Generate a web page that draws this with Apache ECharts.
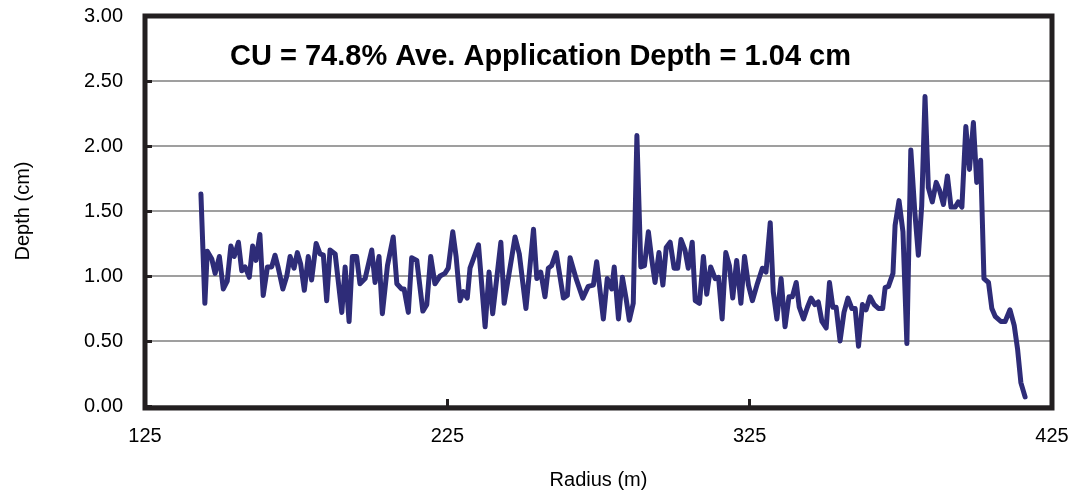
<!DOCTYPE html>
<html>
<head>
<meta charset="utf-8">
<script src="https://cdn.jsdelivr.net/npm/echarts@6/dist/echarts.min.js"></script>
<style>
    html, body { margin: 0; padding: 0; background: #fff; }
    #chart { width: 1073px; height: 495px; }
</style>
</head>
<body>
<div id="chart"></div>
<script>
// 半径 (m)
var radius = [
    143.5, 144.8, 145.6, 147.1, 148.2, 149.6, 150.9, 152.2, 153.4, 154.5, 155.9, 157.0, 158.1, 159.5, 160.6, 161.7,
    163.0, 164.1, 165.5, 166.9, 168.0, 169.1, 170.6, 171.9, 173.0, 174.3, 175.4, 176.5, 177.7, 179.0, 180.1, 181.6,
    182.9, 184.0, 185.1, 186.2, 187.9,
    190.1, 191.2, 192.5, 193.6, 195.0, 196.1, 197.8, 200.0, 201.1, 202.4, 203.5, 205.2, 207.1, 208.3, 209.9, 210.7,
    212.1, 213.2, 214.9, 216.9, 218.2, 219.5, 220.9, 222.6, 224.2, 225.3, 226.8, 227.9, 229.2, 230.3, 231.6, 232.5,
    235.3, 237.5, 238.8, 240.0, 242.7, 243.8, 247.4, 248.8, 251.0, 253.5, 254.6, 255.9, 257.3, 258.4, 259.5, 261.0,
    263.4, 264.7, 265.6, 267.6, 269.8, 271.6, 273.3, 274.4, 276.6, 277.9, 279.4, 280.2, 281.6,
    282.9, 284.1, 285.2, 286.5, 287.7, 289.0, 290.2, 291.5, 292.6, 293.7, 295.0, 296.3, 297.4, 298.7, 300.0, 301.2,
    302.3, 303.6, 304.7, 306.0, 307.0, 308.4, 309.7, 310.8, 312.1, 313.6, 314.7, 315.9, 317.1, 318.3, 319.4, 320.7,
    322.1, 323.3, 324.6, 325.9,
    327.4, 329.2, 330.4, 331.8, 332.8, 334.0, 335.4, 336.7, 338.0, 339.1, 340.4, 341.4, 342.8, 344.1, 345.3, 346.6,
    347.7, 348.9, 350.3, 351.4, 352.5, 353.6, 354.9, 356.2, 357.5, 358.8, 359.9, 361.0, 362.3, 363.5, 364.8, 366.2,
    367.6, 369.0, 369.8, 370.9, 372.4, 373.1,
    374.4, 375.7, 377.0, 378.3, 379.6, 380.8, 381.9, 383.0, 384.1, 385.4, 386.7, 387.8, 389.1, 390.4, 391.6, 393.0,
    394.0, 395.2, 396.5, 397.7, 399.0, 400.1, 401.4, 402.5, 404.0, 405.1, 406.2, 408.1, 409.5, 411.1, 412.5, 413.6,
    414.7, 416.1
];

// 深度 (cm)
var depth = [
    1.63, 0.79, 1.19, 1.13, 1.02, 1.15, 0.90, 0.96, 1.23, 1.15, 1.26, 1.04, 1.07, 0.99, 1.23, 1.12,
    1.32, 0.85, 1.07, 1.07, 1.16, 1.06, 0.90, 1.00, 1.15, 1.06, 1.18, 1.09, 0.89, 1.15, 0.97, 1.25,
    1.17, 1.16, 0.81, 1.20, 1.17,
    0.72, 1.07, 0.65, 1.15, 1.15, 0.94, 0.98, 1.20, 0.95, 1.15, 0.71, 1.08, 1.30, 0.94, 0.90, 0.90,
    0.72, 1.14, 1.12, 0.73, 0.78, 1.15, 0.94, 1.00, 1.02, 1.06, 1.34, 1.15, 0.81, 0.88, 0.83, 1.06,
    1.24, 0.61, 1.03, 0.71, 1.26, 0.79, 1.30, 1.17, 0.75, 1.36, 0.98, 1.03, 0.84, 1.06, 1.08, 1.18,
    0.83, 0.85, 1.14, 0.98, 0.83, 0.92, 0.93, 1.11, 0.67, 0.98, 0.90, 1.07, 0.67,
    0.99, 0.83, 0.66, 0.79, 2.08, 1.07, 1.08, 1.34, 1.13, 0.95, 1.18, 0.93, 1.22, 1.26, 1.06, 1.06,
    1.28, 1.20, 1.06, 1.26, 0.81, 0.79, 1.15, 0.86, 1.07, 0.98, 0.99, 0.67, 1.18, 1.08, 0.83, 1.12,
    0.79, 1.15, 0.93, 0.81,
    0.93, 1.06, 1.03, 1.41, 0.88, 0.67, 0.98, 0.61, 0.84, 0.84, 0.95, 0.76, 0.67, 0.76, 0.83, 0.78,
    0.80, 0.65, 0.60, 0.95, 0.76, 0.76, 0.50, 0.72, 0.83, 0.75, 0.75, 0.46, 0.78, 0.74, 0.84, 0.78,
    0.75, 0.75, 0.91, 0.92, 1.02, 1.39,
    1.58, 1.34, 0.48, 1.97, 1.50, 1.16, 1.54, 2.38, 1.68, 1.57, 1.72, 1.66, 1.55, 1.77, 1.53, 1.53,
    1.57, 1.53, 2.15, 1.82, 2.18, 1.72, 1.89, 0.98, 0.95, 0.75, 0.69, 0.65, 0.65, 0.74, 0.62, 0.44,
    0.18, 0.07
];

var titleText = "CU = 74.8% Ave. Application Depth = 1.04 cm";

function buildData() {
    var arr = [];
    radius.forEach(function (r, i) {
        arr.push([r, depth[i]]);
    });
    return arr;
}

var font = "'Liberation Sans', Arial, sans-serif";
var gridBox = {left: 145, top: 16, width: 907, height: 392};

var chart = echarts.init(document.getElementById("chart"), null, {renderer: "canvas"});
var option = {
    animation: false,
    backgroundColor: "#ffffff",
    title: {
        text: titleText,
        left: 225,
        top: 37,
        textStyle: {
            fontFamily: font,
            fontWeight: "bold",
            fontSize: 29,
            color: "#000"
        }
    },
    grid: {
        left: gridBox.left,
        top: gridBox.top,
        width: gridBox.width,
        height: gridBox.height
    },
    // 外框, 画在网格线上面
    graphic: [
        {
            type: "rect",
            z: 100,
            silent: true,
            shape: {x: gridBox.left, y: gridBox.top, width: gridBox.width, height: gridBox.height},
            style: {fill: null, stroke: "#231f20", lineWidth: 5}
        }
    ],
    xAxis: {
        type: "value",
        min: 125,
        max: 425,
        interval: 100,
        name: "Radius (m)",
        nameLocation: "middle",
        nameGap: 64,
        nameTextStyle: {fontFamily: font, fontSize: 20, color: "#000"},
        axisLine: {show: false},
        axisTick: {show: true, inside: true, length: 7, lineStyle: {color: "#231f20", width: 3}},
        axisLabel: {fontFamily: font, fontSize: 20, color: "#000", margin: 20},
        splitLine: {show: false}
    },
    yAxis: {
        type: "value",
        min: 0,
        max: 3,
        interval: 0.5,
        name: "Depth (cm)",
        nameLocation: "middle",
        nameGap: 112,
        nameTextStyle: {fontFamily: font, fontSize: 20, color: "#000"},
        axisLine: {show: false},
        axisTick: {show: true, inside: true, length: 7, lineStyle: {color: "#231f20", width: 3}},
        axisLabel: {
            fontFamily: font,
            fontSize: 20,
            color: "#000",
            margin: 22,
            formatter: function (v) { return v.toFixed(2); }
        },
        splitLine: {show: true, lineStyle: {color: "#7f7f7f", width: 1.5}}
    },
    series: [
        {
            type: "line",
            data: buildData(),
            showSymbol: false,
            symbol: "none",
            lineStyle: {color: "#2e2c78", width: 5, join: "round", cap: "round"}
        }
    ]
};
chart.setOption(option);
</script>
</body>
</html>
